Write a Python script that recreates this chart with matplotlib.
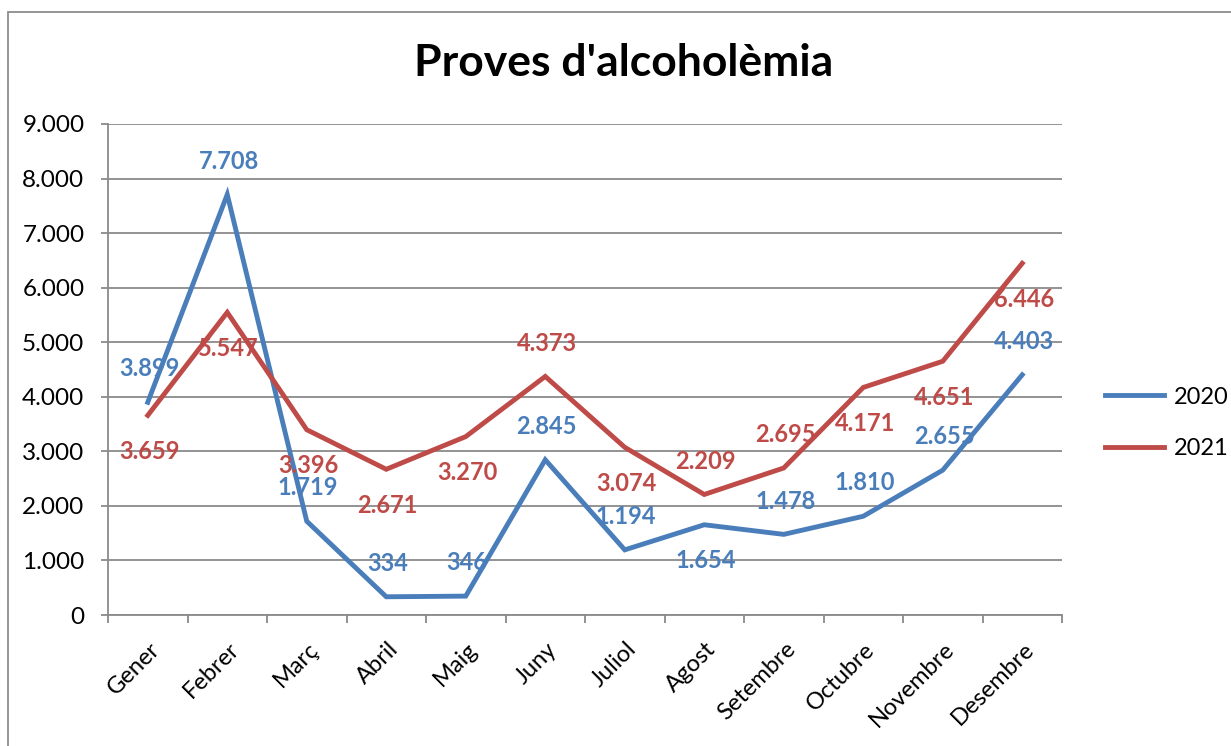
import matplotlib
matplotlib.use('Agg')
import matplotlib.pyplot as plt
import matplotlib.patches as patches
import matplotlib.transforms as mtransforms
from matplotlib.ticker import FuncFormatter, MultipleLocator

# --- DATA ---
months = ['Gener', 'Febrer', 'Març', 'Abril', 'Maig', 'Juny', 'Juliol',
          'Agost', 'Setembre', 'Octubre', 'Novembre', 'Desembre']
vals_2020 = [3899, 7708, 1719, 334, 346, 2845, 1194, 1654, 1478, 1810, 2655, 4403]
vals_2021 = [3659, 5547, 3396, 2671, 3270, 4373, 3074, 2209, 2695, 4171, 4651, 6446]

# label side for each point: 'up' or 'down'
side_2020 = ['up'] * 7 + ['down'] + ['up'] * 4
side_2021 = ['down'] * 5 + ['up', 'down', 'up', 'up'] + ['down'] * 3

# --- STYLE ---
BLUE = '#4A7EBB'
RED = '#BE4B48'
GRID = '#8A8A8A'
FONT = 'Lato'
W, H = 1231, 746

plt.rcParams['font.family'] = [FONT, 'DejaVu Sans']

fig = plt.figure(figsize=(W / 100, H / 100), dpi=100)
fig.patch.set_facecolor('white')

# outer chart frame (only left & top are visible in the crop)
frame = patches.Rectangle((8 / W, -0.1), 1.2, 1.1 - 12 / H,
                          transform=fig.transFigure, fill=False,
                          ec='#8C8C8C', lw=1.3)
fig.patches.append(frame)

ax = fig.add_axes([108 / W, 1 - 615 / H, (1062 - 108) / W, (615 - 124) / H])
x = list(range(len(months)))

ax.plot(x, vals_2020, color=BLUE, lw=3.5, label='2020', solid_joinstyle='miter', zorder=3)
ax.plot(x, vals_2021, color=RED, lw=3.5, label='2021', solid_joinstyle='miter', zorder=3)

ax.set_xlim(-0.5, len(months) - 0.5)
ax.set_ylim(0, 9000)


def fmt(v):
    return f'{v:,}'.replace(',', '.')


for vals, sides, col in [(vals_2020, side_2020, BLUE), (vals_2021, side_2021, RED)]:
    for i, (v, s) in enumerate(zip(vals, sides)):
        dy = 24 if s == 'up' else -26
        ax.annotate(fmt(v), (i, v), xytext=(1, dy), textcoords='offset points',
                    ha='center', va='center', color=col, fontsize=17,
                    fontweight='bold', zorder=4)

# gridlines & axes
ax.yaxis.set_major_locator(MultipleLocator(1000))
ax.yaxis.set_major_formatter(FuncFormatter(lambda v, p: fmt(int(v))))
ax.grid(axis='y', color=GRID, lw=1.3, zorder=0)
ax.set_axisbelow(True)
for sp in ['top', 'right']:
    ax.spines[sp].set_visible(False)
for sp in ['left', 'bottom']:
    ax.spines[sp].set_color(GRID)
    ax.spines[sp].set_linewidth(1.3)
ax.tick_params(axis='y', length=5, width=1.3, color=GRID, labelsize=17.5,
               pad=12, labelcolor='black')

ax.set_xticks(x)
ax.set_xticks([i - 0.5 for i in range(len(months) + 1)], minor=True)
ax.tick_params(axis='x', which='major', length=0, pad=17)
ax.tick_params(axis='x', which='minor', length=6, width=1.3, color=GRID)
ax.set_xticklabels(months, rotation=45, ha='right', rotation_mode='anchor',
                   fontsize=17)
offset = mtransforms.ScaledTranslation(1 / 100, 0, fig.dpi_scale_trans)
for lab in ax.get_xticklabels():
    lab.set_transform(lab.get_transform() + offset)

fig.text(624 / W, 1 - 63 / H, "Proves d'alcoholèmia", ha='center', va='center',
         fontsize=32, fontweight='bold', color='black')

leg = fig.legend(loc='center left', bbox_to_anchor=(1084 / W, 1 - 423 / H),
                 frameon=False, fontsize=17, handlelength=2.5,
                 labelspacing=1.3, handletextpad=0.4)

fig.savefig('out.png', dpi=100)
